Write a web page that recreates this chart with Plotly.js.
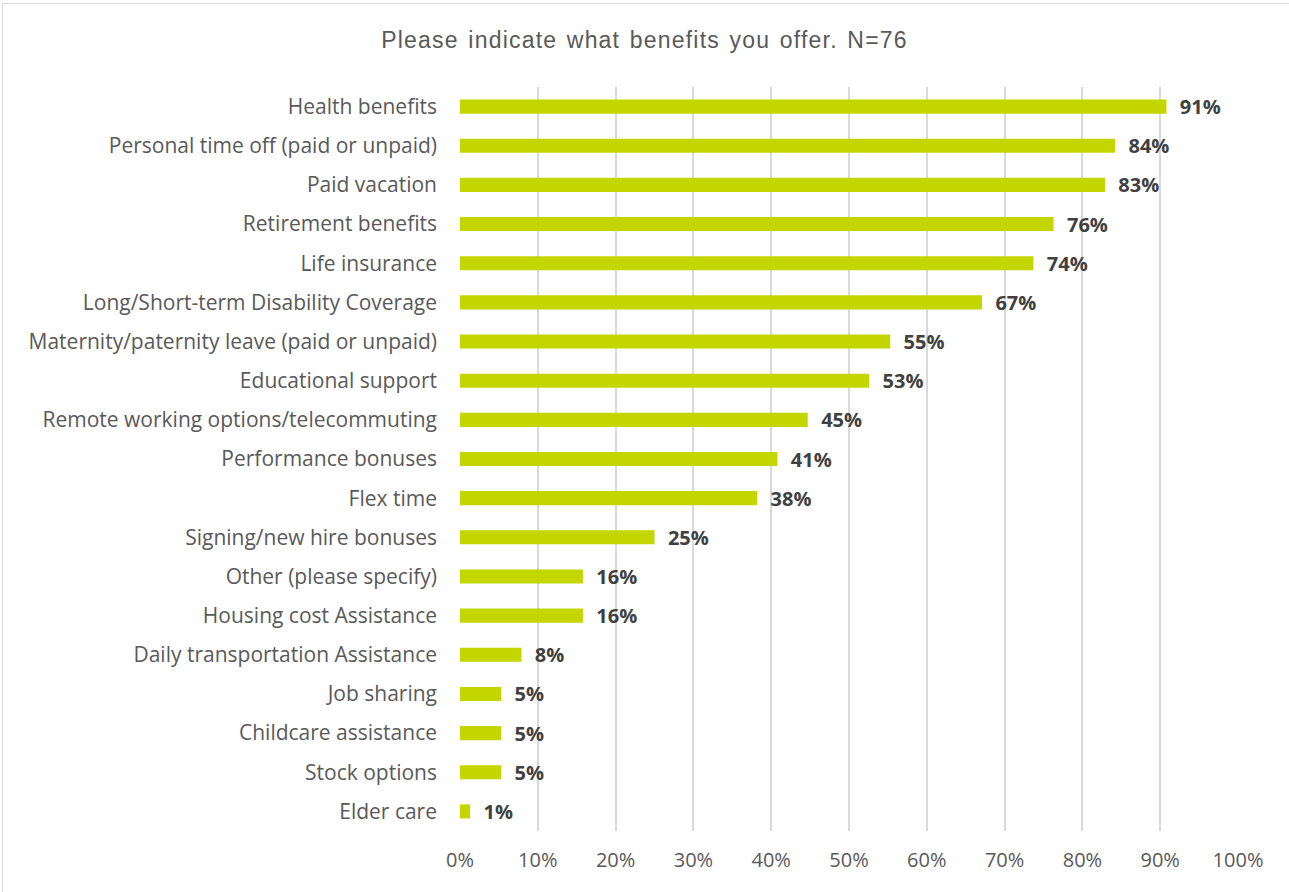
<!DOCTYPE html>
<html>
<head>
<meta charset="utf-8">
<script src="https://cdn.plot.ly/plotly-3.0.1.min.js"></script>
<style>
html,body{margin:0;padding:0;background:#fff;}
#frame{position:absolute;left:2px;top:3px;width:1300px;height:900px;border:1px solid #d9d9d9;box-sizing:border-box;}
#chart{position:absolute;left:0;top:0;width:1289px;height:892px;}
#chart .gtitle{letter-spacing:1.2px;word-spacing:2px;}
</style>
</head>
<body>
<div id="frame"></div>
<div id="chart"></div>
<script>
const categories = [
  "Health benefits",
  "Personal time off (paid or unpaid)",
  "Paid vacation",
  "Retirement benefits",
  "Life insurance",
  "Long/Short-term Disability Coverage",
  "Maternity/paternity leave (paid or unpaid)",
  "Educational support",
  "Remote working options/telecommuting",
  "Performance bonuses",
  "Flex time",
  "Signing/new hire bonuses",
  "Other (please specify)",
  "Housing cost Assistance",
  "Daily transportation Assistance",
  "Job sharing",
  "Childcare assistance",
  "Stock options",
  "Elder care"
];
const values = [90.8, 84.2, 82.9, 76.3, 73.7, 67.1, 55.3, 52.6, 44.7, 40.8, 38.2, 25.0, 15.8, 15.8, 7.9, 5.3, 5.3, 5.3, 1.3];
const labels = ["91%","84%","83%","76%","74%","67%","55%","53%","45%","41%","38%","25%","16%","16%","8%","5%","5%","5%","1%"];
const tickVals = [0,10,20,30,40,50,60,70,80,90,100];
const tickText = ["0%","10%","20%","30%","40%","50%","60%","70%","80%","90%","100%"];

const trace = {
  type: 'bar',
  orientation: 'h',
  y: categories,
  x: values,
  text: labels.map(t => '\u00a0\u00a0' + t),
  textposition: 'outside',
  constraintext: 'none',
  cliponaxis: false,
  textfont: {family: '"Open Sans", sans-serif', size: 20, color: '#404040', weight: 'bold'},
  marker: {color: '#c4d600'},
  hoverinfo: 'none'
};

const layout = {
  width: 1289, height: 892,
  paper_bgcolor: 'rgba(0,0,0,0)',
  plot_bgcolor: 'rgba(0,0,0,0)',
  margin: {l: 460, r: 51, t: 87, b: 61},
  title: {text: 'Please indicate what benefits you offer. N=76', x: 0.5, xanchor: 'center', y: 0.955, yanchor: 'middle',
          font: {family: '"Liberation Sans", Arial, sans-serif', size: 23, color: '#595959'}},
  bargap: 0.64,
  showlegend: false,
  xaxis: {
    range: [0, 100], tickvals: tickVals, ticktext: tickText,
    showgrid: true, gridcolor: '#d9d9d9', gridwidth: 2,
    zeroline: false, showline: false, ticks: '',
    tickfont: {family: '"Open Sans", sans-serif', size: 20, color: '#595959'},
    ticklabelstandoff: 15, fixedrange: true
  },
  yaxis: {
    type: 'category', categoryorder: 'array', categoryarray: categories, autorange: 'reversed',
    showgrid: false, zeroline: false, showline: false, ticks: '',
    tickfont: {family: '"Open Sans", sans-serif', size: 21, color: '#595959'},
    ticklabelstandoff: 22, fixedrange: true
  }
};

Plotly.newPlot('chart', [trace], layout, {displayModeBar: false, staticPlot: true});
</script>
</body>
</html>
